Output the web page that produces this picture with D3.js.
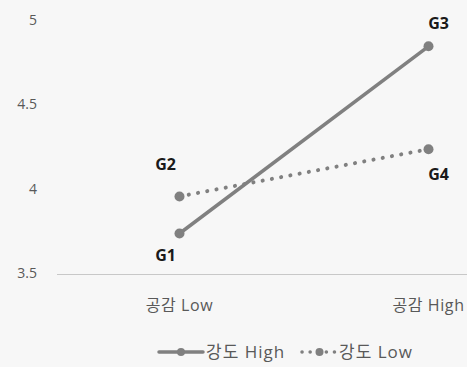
<!DOCTYPE html>
<html><head><meta charset="utf-8">
<script src="https://cdn.jsdelivr.net/npm/d3@7"></script>
<style>
html,body{margin:0;padding:0;background:#f7f7f7;}
svg{display:block;}
text{font-family:"Open Sans","Noto Sans CJK KR",sans-serif;}
</style></head><body>
<svg id="c" width="467" height="367"></svg>
<script>
const categories = ["공감 Low", "공감 High"];
const seriesNames = ["강도 High", "강도 Low"];
const highValues = [3.74, 4.85];
const lowValues = [3.96, 4.24];
const pointLabels = [["G1", "G3"], ["G2", "G4"]];
const yTicks = [3.5, 4, 4.5, 5];

const svg = d3.select("#c");
const W = 467, H = 367;
svg.append("rect").attr("width", W).attr("height", H).attr("fill", "#f7f7f7");

const x = d3.scaleBand().domain(categories).range([55, 553]);
const cx = c => x(c) + x.bandwidth() / 2;
const y = d3.scaleLinear().domain([3.5, 5]).range([274, 21]);

const grey = "#808080";

// y tick labels
svg.append("g").selectAll("text").data(yTicks).join("text")
  .attr("x", 37).attr("y", d => y(d) - 1).attr("dy", "0.35em")
  .attr("text-anchor", "end").attr("font-size", 14).attr("fill", "#595959")
  .text(d => d);

// baseline
svg.append("line").attr("x1", 57).attr("x2", W).attr("y1", y(3.5) + 0.5).attr("y2", y(3.5) + 0.5)
  .attr("stroke", "#c8c8c8").attr("stroke-width", 1);

// category labels
svg.append("g").selectAll("text").data(categories).join("text")
  .attr("x", cx).attr("y", 305).attr("dy", "0.35em")
  .attr("text-anchor", "middle").attr("font-size", 16).attr("letter-spacing", 0.6)
  .attr("fill", "#595959")
  .text(d => d);

const series = [
  {name: seriesNames[0], values: highValues, dash: null, labels: pointLabels[0]},
  {name: seriesNames[1], values: lowValues, dash: "0.1 9.3", labels: pointLabels[1]}
];

const line = d3.line().x((d, i) => cx(categories[i])).y(d => y(d));

series.forEach(s => {
  const p = svg.append("path").datum(s.values).attr("d", line)
    .attr("fill", "none").attr("stroke", grey).attr("stroke-width", 3.5)
    .attr("stroke-linecap", "round");
  if (s.dash) p.attr("stroke-dasharray", s.dash).attr("stroke-width", 4);
  svg.append("g").selectAll("circle").data(s.values).join("circle")
    .attr("cx", (d, i) => cx(categories[i])).attr("cy", d => y(d)).attr("r", 5)
    .attr("fill", grey);
});

// point labels
const labelPos = [
  {t: pointLabels[0][0], v: highValues[0], c: categories[0], dx: -14, dy: 22},
  {t: pointLabels[0][1], v: highValues[1], c: categories[1], dx: 10, dy: -23},
  {t: pointLabels[1][0], v: lowValues[0], c: categories[0], dx: -14, dy: -32},
  {t: pointLabels[1][1], v: lowValues[1], c: categories[1], dx: 10, dy: 25}
];
svg.append("g").selectAll("text").data(labelPos).join("text")
  .attr("x", d => cx(d.c) + d.dx).attr("y", d => y(d.v) + d.dy).attr("dy", "0.35em")
  .attr("text-anchor", "middle").attr("font-size", 16).attr("font-weight", "bold")
  .attr("fill", "#1a1a1a").text(d => d.t);

// legend
const lg = svg.append("g");
const ly = 352;
const items = [
  {s: series[0], x0: 159, x1: 203, tx: 206},
  {s: series[1], x0: 302, x1: 337, tx: 339}
];
items.forEach(it => {
  const l = lg.append("line").attr("x1", it.x0).attr("x2", it.x1).attr("y1", ly).attr("y2", ly)
    .attr("stroke", grey).attr("stroke-width", 3.5).attr("stroke-linecap", "round");
  if (it.s.dash) l.attr("stroke-dasharray", "0.1 8").attr("stroke-width", 3.5);
  lg.append("circle").attr("cx", (it.x0 + it.x1) / 2).attr("cy", ly).attr("r", 4).attr("fill", grey);
  lg.append("text").attr("x", it.tx).attr("y", ly).attr("dy", "0.35em")
    .attr("font-size", 17).attr("letter-spacing", 1).attr("fill", "#595959").text(it.s.name);
});
</script>
</body></html>
